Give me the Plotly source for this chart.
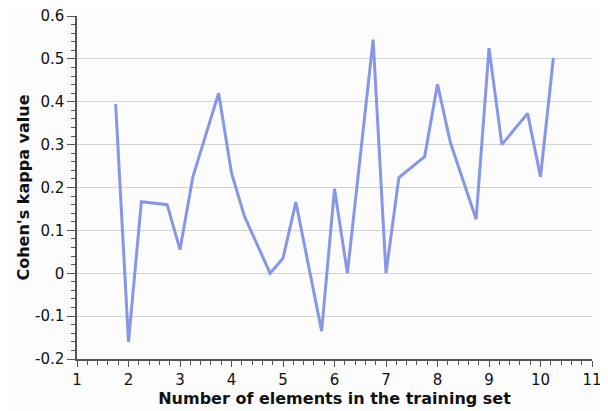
import plotly.graph_objects as go

n_elements = [1.75, 2, 2.25, 2.75, 3, 3.25, 3.75, 4, 4.25, 4.75, 5, 5.25, 5.75, 6, 6.25,
              6.75, 7, 7.25, 7.75, 8, 8.25, 8.75, 9, 9.25, 9.75, 10, 10.25]
kappa = [0.395, -0.16, 0.167, 0.16, 0.055, 0.225, 0.42, 0.234, 0.133, 0.0, 0.035, 0.166,
         -0.135, 0.197, 0.0, 0.545, 0.0, 0.223, 0.272, 0.441, 0.305, 0.126, 0.525, 0.30,
         0.373, 0.225, 0.502]

x_ticks = [1, 2, 3, 4, 5, 6, 7, 8, 9, 10, 11]
y_ticks = [-0.2, -0.1, 0, 0.1, 0.2, 0.3, 0.4, 0.5, 0.6]
y_labels = ["-0.2", "-0.1", "0", "0.1", "0.2", "0.3", "0.4", "0.5", "0.6"]

fig = go.Figure()
fig.add_trace(go.Scatter(x=n_elements, y=kappa, mode="lines",
                         line=dict(color="#8797e6", width=3), showlegend=False))

font_family = "DejaVu Sans, Verdana, sans-serif"
fig.update_layout(
    width=600, height=403,
    margin=dict(l=69, r=16, t=8, b=52),
    paper_bgcolor="#fcfcfc", plot_bgcolor="#fcfcfc",
    font=dict(family=font_family, size=15, color="#111"),
    xaxis=dict(range=[1, 11], tickvals=x_ticks, showgrid=False, zeroline=False,
               automargin=False, ticklabeloverflow="allow",
               showline=True, linecolor="#555", linewidth=1.5,
               ticks="outside", ticklen=6, tickcolor="#555",
               minor=dict(dtick=0.2, ticks="outside", ticklen=4, tickcolor="#555", showgrid=False),
               tickfont=dict(size=15),
               title=dict(text="<b>Number of elements in the training set</b>",
                          font=dict(size=16), standoff=2)),
    yaxis=dict(range=[-0.2, 0.6], tickvals=y_ticks, ticktext=y_labels,
               automargin=False, ticklabeloverflow="allow",
               showgrid=True, gridcolor="#d3d3d3", gridwidth=1, zeroline=False,
               showline=True, linecolor="#555", linewidth=1.5,
               ticks="outside", ticklen=8, tickcolor="#555",
               minor=dict(dtick=0.02, ticks="outside", ticklen=4, tickcolor="#555", showgrid=False),
               tickfont=dict(size=15),
               title=dict(text="<b>Cohen's kappa value</b>", font=dict(size=16), standoff=1)),
)

fig.write_html("out.html")
